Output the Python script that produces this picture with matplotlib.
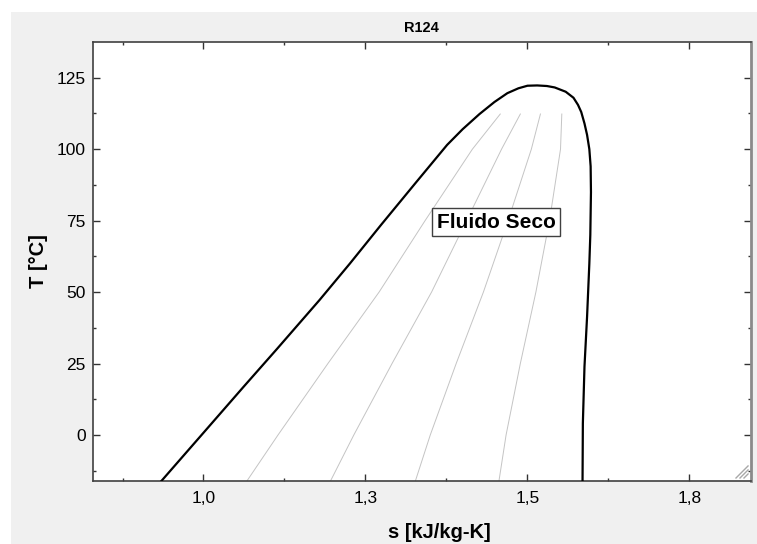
import matplotlib
matplotlib.use("Agg")
import matplotlib.pyplot as plt
from matplotlib.patches import Rectangle
from matplotlib.ticker import FixedLocator

plt.rcParams['font.family'] = ['Liberation Sans', 'DejaVu Sans']

# Saturation dome: liquid branch (bottom -> critical point)
liq_T = [-16.1, 0.0, 16.9, 30.0, 47.2, 60.0, 73.5, 88.1, 101.5, 107.0,
         112.3, 116.5, 119.6, 121.3, 122.2, 122.3]
liq_s = [0.935, 0.997, 1.062, 1.113, 1.179, 1.226, 1.274, 1.327, 1.376, 1.400,
         1.426, 1.449, 1.469, 1.486, 1.500, 1.515]
# vapour branch (critical point -> bottom)
vap_T = [122.3, 122.1, 121.6, 120.1, 118.0, 115.5, 113.0, 109.0, 105.0, 100.0,
         94.0, 85.0, 70.0, 60.0, 41.4, 23.9, 4.1, -16.1]
vap_s = [1.515, 1.530, 1.542, 1.559, 1.571, 1.578, 1.583, 1.588, 1.592, 1.5955,
         1.5975, 1.598, 1.597, 1.5955, 1.592, 1.588, 1.5855, 1.585]

# Constant-quality lines (x = 0.2, 0.4, 0.6, 0.8)
q_T = [-16.1, 0.0, 25.0, 50.0, 75.0, 100.0, 112.3]
q02_s = [1.067, 1.115, 1.192, 1.271, 1.342, 1.415, 1.458]
q04_s = [1.196, 1.232, 1.291, 1.352, 1.406, 1.460, 1.489]
q06_s = [1.327, 1.350, 1.390, 1.432, 1.470, 1.506, 1.520]
q08_s = [1.456, 1.467, 1.489, 1.513, 1.534, 1.551, 1.553]

xticks = [1.0, 1.25, 1.5, 1.75]
xtick_labels = ['1,0', '1,3', '1,5', '1,8']
xminor = [0.875, 1.125, 1.375, 1.625]
yticks = [0, 25, 50, 75, 100, 125]
yminor = [-12.5, 12.5, 37.5, 62.5, 87.5, 112.5]

fig = plt.figure(figsize=(7.57, 5.44), dpi=100, facecolor='white')
bg = Rectangle((11/757, 0), 1 - 11/757, (544 - 12)/544,
               transform=fig.transFigure, facecolor='#f0f0f0',
               edgecolor='none', zorder=-10)
fig.patches.append(bg)

ax = fig.add_axes([92.7/757, (544-481)/544, (751-92.7)/757, (481-42)/544])
ax.set_zorder(1)
ax.set_facecolor('white')

for qs in (q02_s, q04_s, q06_s, q08_s):
    ax.plot(qs, q_T, color='#c4c4c4', lw=0.7, zorder=2)
ax.plot(liq_s + vap_s, liq_T + vap_T, color='black', lw=1.6, zorder=3,
        solid_joinstyle='round')

ax.set_xlim(0.829, 1.845)
ax.set_ylim(-16.1, 137.5)

ax.xaxis.set_major_locator(FixedLocator(xticks))
ax.set_xticklabels(xtick_labels)
ax.xaxis.set_minor_locator(FixedLocator(xminor))
ax.yaxis.set_major_locator(FixedLocator(yticks))
ax.yaxis.set_minor_locator(FixedLocator(yminor))

ax.tick_params(which='both', direction='in', top=True, right=True,
               color='#333333', width=1)
ax.tick_params(which='major', length=5, labelsize=12.5)
ax.tick_params(which='minor', length=2.5)
ax.tick_params(axis='x', which='major', pad=7)
ax.tick_params(axis='y', which='major', pad=5)

for side in ('left', 'top', 'bottom'):
    ax.spines[side].set_color('#404040')
    ax.spines[side].set_linewidth(1.2)
ax.spines['right'].set_color('#8a8a8a')
ax.spines['right'].set_linewidth(2)

ax.set_title('R124', fontsize=10.5, fontweight='bold', pad=7)
ax.set_xlabel('s [kJ/kg-K]', fontsize=14.5, fontweight='bold')
ax.set_ylabel('T [°C]', fontsize=14.5, fontweight='bold')
ax.xaxis.set_label_coords(0.526, -0.095)
ax.yaxis.set_label_coords(-0.068, 0.5)

ax.text(1.4514, 74.5, 'Fluido Seco', fontsize=15, fontweight='bold',
        ha='center', va='center', zorder=5,
        bbox=dict(boxstyle='square,pad=0.2', facecolor='white',
                  edgecolor='#404040', lw=1))

# window resize grip (decorative)
for x0 in (736, 740, 744):
    x_a = (x0 - 92.7) / (751 - 92.7)
    ax.plot([x_a, 0.9955], [(481-478)/439, (481-478)/439 + (0.9955 - x_a)*658.3/439],
            transform=ax.transAxes, color='#a8a8a8', lw=1, clip_on=False, zorder=6)

fig.savefig('out.png', dpi=100, facecolor=fig.get_facecolor())
